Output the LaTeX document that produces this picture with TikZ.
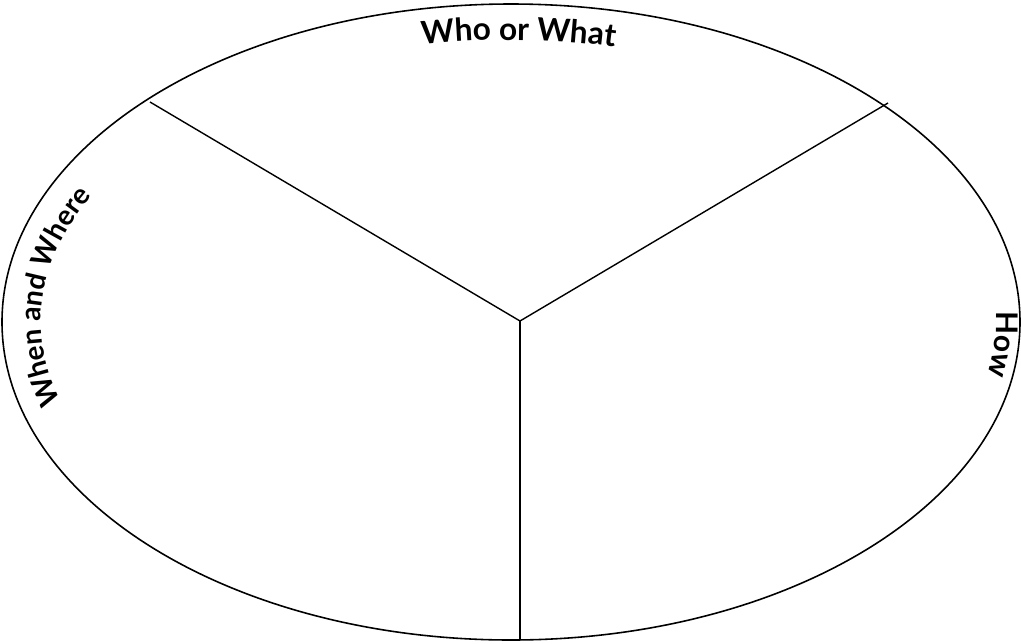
\documentclass[tikz,border=0pt]{standalone}
\usepackage{fontspec}
\setmainfont{Lato}
\usetikzlibrary{decorations.text}

\tikzset{
  rim/.style={draw, line width=0.9pt},
  spoke/.style={draw, line width=0.8pt},
  rimtext/.style={decorate, decoration={text along path, text align=center,
      text format delimiters={|}{|}, text={#1}}}
}

\begin{document}
\begin{tikzpicture}[x=0.02cm, y=0.02cm]
		% 1. Page frame (pixel grid, y downwards)
		\useasboundingbox (0,0) rectangle (1021,-643);

		% 2. The outer ellipse
		\coordinate (rimc) at (511,-322);
		\draw[rim] (rimc) ellipse [x radius=509, y radius=318];

		% 3. Three spokes from the hub
		\coordinate (hub) at (520,-321);
		\coordinate (upleft) at (150,-102);
		\coordinate (upright) at (888,-103);
		\coordinate (down) at (520,-640);
		\draw[spoke] (hub) -- (upleft);
		\draw[spoke] (hub) -- (upright);
		\draw[spoke] (hub) -- (down);

		% 4. Labels bent along the rim
		\path[rimtext={|\fontsize{18}{22}\selectfont\bfseries|Who or What}]
			([shift={(114:475 and 282)}]rimc) arc[start angle=114, end angle=64, x radius=475, y radius=282];
		\path[rimtext={|\fontsize{16}{20}\selectfont\bfseries|When and Where}]
			([shift={(212:470 and 278)}]rimc) arc[start angle=212, end angle=139, x radius=470, y radius=278];
		\path[rimtext={|\fontsize{17}{21}\selectfont\bfseries|How}]
			([shift={(12:485 and 290)}]rimc) arc[start angle=12, end angle=-20, x radius=485, y radius=290];
	\end{tikzpicture}
\end{document}
